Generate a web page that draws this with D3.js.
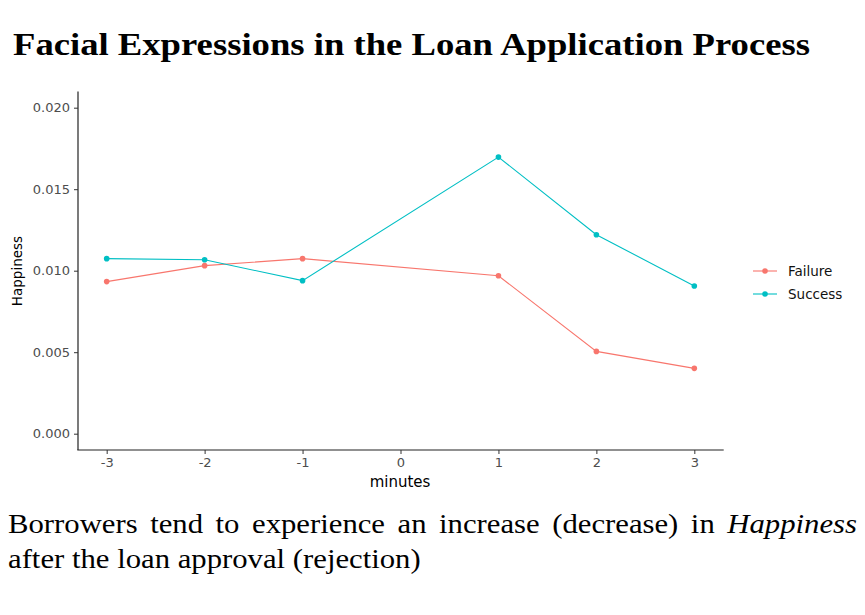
<!DOCTYPE html>
<meta charset="utf-8">
<script src="https://d3js.org/d3.v7.min.js"></script>
<style>
  body { margin: 0; background: #fff; }
  svg { display: block; }
</style>
<body>
<svg width="865" height="615"></svg>
<script>
    // values
    var minutes   = [-3, -2, -1, 1, 2, 3];
    var failure   = [0.00933, 0.01031, 0.01074, 0.00969, 0.00505, 0.00401];
    var success   = [0.01074, 0.01067, 0.00939, 0.01697, 0.01221, 0.00906];
    var seriesNames = ['Failure', 'Success'];
    var xTicks    = [-3, -2, -1, 0, 1, 2, 3];
    var yTicks    = [0, 0.005, 0.010, 0.015, 0.020];

    var title   = 'Facial Expressions in the Loan Application Process';
    var note1   = ['Borrowers tend to experience an increase (decrease) in ', 'Happiness'];
    var note2   = 'after the loan approval (rejection)';

    var svg     = d3.select('svg');
    var color   = d3.scaleOrdinal().domain(seriesNames).range(['#F8766D', '#00BFC4']);
    var sans    = '"DejaVu Sans", sans-serif';
    var serif   = '"Liberation Serif", serif';

    var x = d3.scaleLinear().domain([-3.3, 3.3]).range([77.3, 723.7]);
    var y = d3.scaleLinear().domain([-0.001, 0.021]).range([450, 91.4]);

    // title
    svg.append('text')
        .attr('x', 13).attr('y', 55)
        .attr('font-family', serif).attr('font-weight', 'bold').attr('font-size', 32)
        .attr('textLength', 797).attr('lengthAdjust', 'spacingAndGlyphs')
        .text(title);

    // axes
    var xAxis = svg.append('g')
        .attr('transform', 'translate(0,450)')
        .call(d3.axisBottom(x).tickValues(xTicks).tickSize(4).tickPadding(4)
            .tickFormat(function(d){ return String(d); }));
    var yAxis = svg.append('g')
        .attr('transform', 'translate(78,0)')
        .call(d3.axisLeft(y).tickValues(yTicks).tickSize(4).tickPadding(4)
            .tickFormat(d3.format('.3f')));

    [xAxis, yAxis].forEach(function(g){
        g.select('.domain').attr('stroke', '#222').attr('stroke-width', 1.2);
        g.selectAll('.tick line').attr('stroke', '#333');
        g.selectAll('.tick text')
            .attr('fill', '#4D4D4D')
            .attr('font-family', sans)
            .attr('font-size', 13);
    });
    // ggplot-style axis lines with no end caps
    xAxis.select('.domain').attr('d', 'M' + x.range()[0] + ',0H' + x.range()[1]);
    yAxis.select('.domain').attr('d', 'M0,' + y.range()[0] + 'V' + y.range()[1]);

    svg.append('text')
        .attr('x', 400).attr('y', 487)
        .attr('text-anchor', 'middle')
        .attr('font-family', sans).attr('font-size', 15)
        .text('minutes');

    svg.append('text')
        .attr('transform', 'translate(22,271) rotate(-90)')
        .attr('text-anchor', 'middle')
        .attr('font-family', sans).attr('font-size', 13.5)
        .text('Happiness');

    // series
    var data = [
        { name: 'Failure', values: minutes.map(function(m, i){ return [m, failure[i]]; }) },
        { name: 'Success', values: minutes.map(function(m, i){ return [m, success[i]]; }) }
    ];
    var line = d3.line().x(function(d){ return x(d[0]); }).y(function(d){ return y(d[1]); });

    var series = svg.selectAll('g.series').data(data).enter().append('g').attr('class', 'series');
    series.append('path')
        .attr('fill', 'none')
        .attr('stroke', function(d){ return color(d.name); })
        .attr('stroke-width', 1.1)
        .attr('d', function(d){ return line(d.values); });
    series.selectAll('circle')
        .data(function(d){ return d.values.map(function(v){ return { name: d.name, v: v }; }); })
        .enter().append('circle')
        .attr('cx', function(d){ return x(d.v[0]); })
        .attr('cy', function(d){ return y(d.v[1]); })
        .attr('r', 2.8)
        .attr('fill', function(d){ return color(d.name); });

    // legend
    var legend = svg.selectAll('g.legend').data(seriesNames).enter().append('g')
        .attr('class', 'legend')
        .attr('transform', function(d, i){ return 'translate(753,' + (271 + i * 23) + ')'; });
    legend.append('line')
        .attr('x1', 0).attr('x2', 24)
        .attr('stroke', function(d){ return color(d); }).attr('stroke-width', 1.1);
    legend.append('circle')
        .attr('cx', 12).attr('r', 2.8)
        .attr('fill', function(d){ return color(d); });
    legend.append('text')
        .attr('x', 35).attr('dy', '0.36em')
        .attr('font-family', sans).attr('font-size', 13.5)
        .attr('fill', '#111')
        .text(function(d){ return d; });

    // caption, justified on the first line
    var cap = svg.append('g').attr('font-family', serif).attr('font-size', 27).attr('fill', '#000');
    var l1 = cap.append('text').attr('x', 0).attr('y', 533);
    l1.append('tspan').text(note1[0]);
    l1.append('tspan').attr('font-style', 'italic').text(note1[1]);
    var l2 = cap.append('text').attr('x', 0).attr('y', 568).text(note2);

    var k = 413 / l2.node().getComputedTextLength();
    cap.attr('transform', 'translate(8,0) scale(' + k + ',1)');
    var spaces = (note1[0] + note1[1]).split(' ').length - 1;
    var w1 = l1.node().getComputedTextLength();
    l1.attr('word-spacing', (849 / k - w1) / spaces);
</script>
</body>
